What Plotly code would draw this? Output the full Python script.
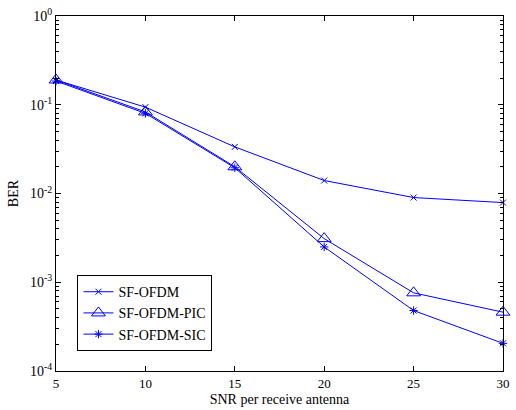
import plotly.graph_objects as go

snr = [5, 10, 15, 20, 25, 30]
ber_ofdm = [0.19, 0.094, 0.0335, 0.014, 0.009, 0.0079]
ber_pic = [0.19, 0.083, 0.020, 0.0031, 0.00076, 0.00046]
ber_sic = [0.185, 0.080, 0.0195, 0.0025, 0.00048, 0.000205]
names = ["SF-OFDM", "SF-OFDM-PIC", "SF-OFDM-SIC"]
ytickvals = [1e-4, 1e-3, 1e-2, 1e-1, 1]
yticktext = ["10<sup>-4</sup>", "10<sup>-3</sup>", "10<sup>-2</sup>", "10<sup>-1</sup>", "10<sup>0</sup>"]
xticks = [5, 10, 15, 20, 25, 30]
yminor = [m * 10.0 ** e for e in range(-4, 0) for m in range(2, 10)]

blue = "#0000ff"
fig = go.Figure()
fig.add_trace(go.Scatter(x=snr, y=ber_ofdm, name=names[0], mode="lines+markers", cliponaxis=False,
                         line=dict(color=blue, width=1),
                         marker=dict(symbol="x-thin-open", size=6, color=blue, line=dict(color=blue, width=1))))
fig.add_trace(go.Scatter(x=snr, y=ber_pic, name=names[1], mode="lines+markers", cliponaxis=False,
                         line=dict(color=blue, width=1),
                         marker=dict(symbol="triangle-up-open", size=12, color=blue, line=dict(color=blue, width=1))))
fig.add_trace(go.Scatter(x=snr, y=ber_sic, name=names[2], mode="lines+markers", cliponaxis=False,
                         line=dict(color=blue, width=1),
                         marker=dict(symbol="asterisk-open", size=7, color=blue, line=dict(color=blue, width=1))))

fam = "Liberation Serif"
font = dict(family=fam, size=13, color="black")
fig.update_layout(
    width=516, height=410,
    margin=dict(l=56, r=6, t=14, b=39),
    paper_bgcolor="white", plot_bgcolor="white",
    font=font,
    showlegend=True,
    legend=dict(x=0.048, y=0.056, xanchor="left", yanchor="bottom",
                bordercolor="black", borderwidth=1, bgcolor="white",
                font=dict(family=fam, size=14, color="black"),
                tracegroupgap=0, itemwidth=30),
)
fig.update_xaxes(range=[5, 30], tickvals=xticks, ticks="inside", ticklen=5, tickcolor="black",
                 showline=True, linecolor="black", linewidth=1, mirror="ticks",
                 showgrid=False, zeroline=False, tickfont=dict(family=fam, size=13),
                 title=dict(text="SNR per receive antenna", standoff=4, font=dict(family=fam, size=14)))
fig.update_yaxes(type="log", range=[-4, 0], tickvals=ytickvals, ticktext=yticktext,
                 ticks="inside", ticklen=5, tickcolor="black",
                 minor=dict(tickmode="array", tickvals=yminor, ticks="inside", ticklen=3,
                            tickcolor="black", showgrid=False),
                 showline=True, linecolor="black", linewidth=1, mirror="ticks",
                 showgrid=False, zeroline=False, tickfont=dict(family=fam, size=14),
                 title=dict(text="BER", standoff=8, font=dict(family=fam, size=14)))
fig.write_html("out.html", config={"displayModeBar": False},
               post_script="document.body.style.margin='0';document.body.style.padding='0';")
